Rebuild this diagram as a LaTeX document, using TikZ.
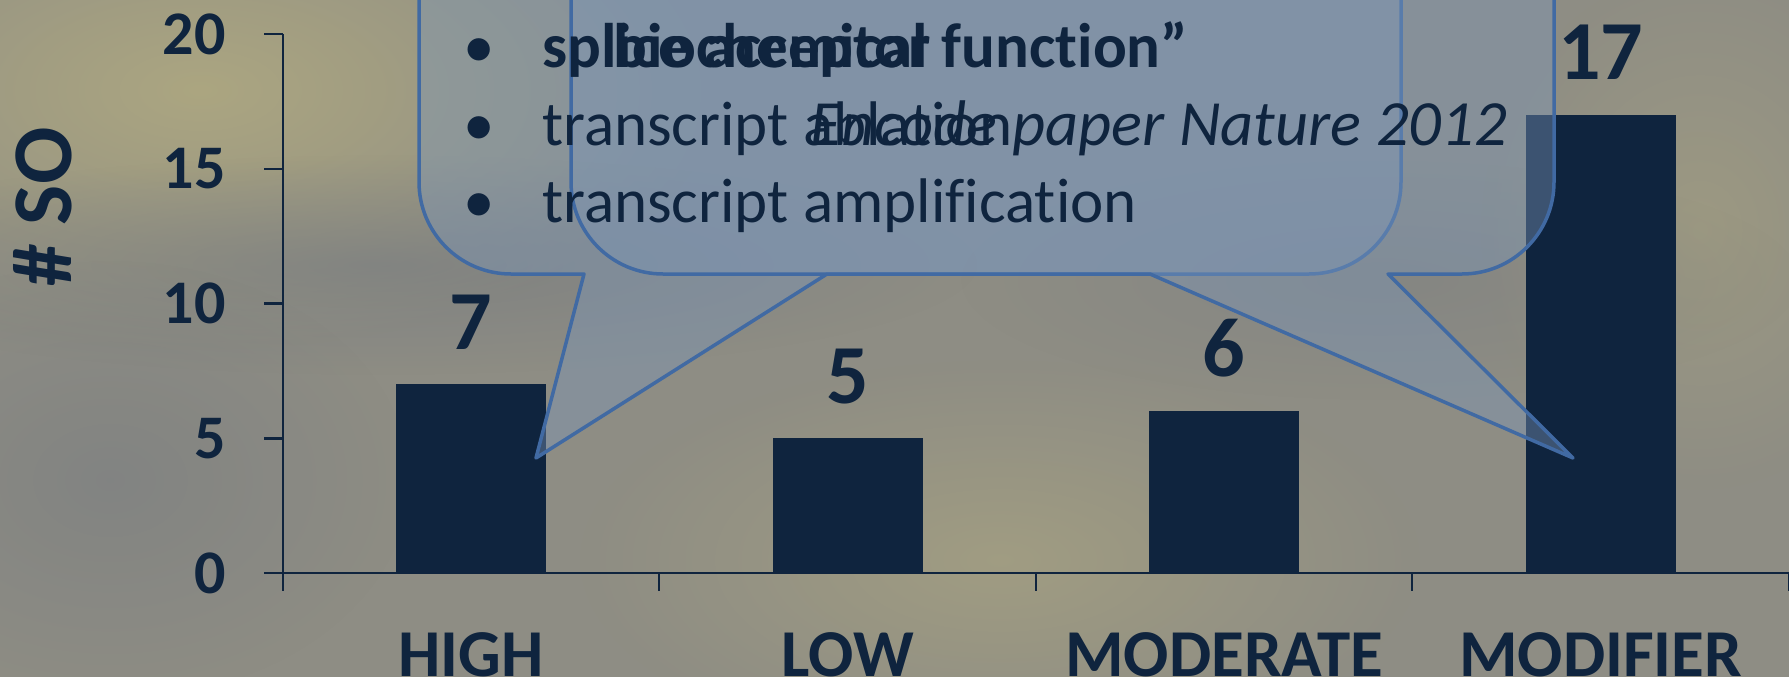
\documentclass[tikz,border=0pt]{standalone}
\usepackage{fontspec}
\setmainfont{Carlito}[Ligatures=NoCommon]
\usetikzlibrary{positioning,fadings}

\definecolor{navy}{HTML}{0F243E}
\definecolor{bubbleline}{HTML}{416AA3}
\definecolor{bubblefill}{HTML}{7B96B8}
\definecolor{skybase}{HTML}{8E8D84}
\definecolor{skyyellow}{HTML}{B3AC80}
\definecolor{skygray}{HTML}{737880}

\tikzfading[name=softspot, inner color=transparent!0, outer color=transparent!100]

\tikzset{
  bar/.style={fill=navy, inner sep=0pt, outer sep=0pt, minimum width=150pt, anchor=south},
  ticklbl/.style={font=\fontsize{62}{62}\selectfont\bfseries, text=navy, anchor=east, inner sep=0pt},
  vallbl/.style={font=\fontsize{84}{84}\selectfont\bfseries, text=navy, anchor=base, inner sep=0pt},
  catlbl/.style={font=\fontsize{67}{67}\selectfont\bfseries, text=navy, anchor=base, inner sep=0pt},
  bubble/.style={draw=bubbleline, line width=3.5pt, fill=bubblefill, fill opacity=0.42, line join=round},
  bubbletxt/.style={font=\fontsize{63}{77}\selectfont, text=navy, anchor=base west, inner sep=0pt},
  dot/.style={font=\fontsize{63}{77}\selectfont, text=navy, anchor=base, inner sep=0pt},
  axisline/.style={draw=navy, line width=2.5pt},
  blob/.style={path fading=softspot},
}

\begin{document}
\begin{tikzpicture}[x=1pt,y=-1pt]
\useasboundingbox (0,0) rectangle (1789,677);
\clip (0,0) rectangle (1789,677);

% blurred sky behind the chart
\fill[skybase] (0,0) rectangle (1789,677);
\fill[skyyellow, blob, opacity=0.8] (200,90) ellipse [x radius=520, y radius=260];
\fill[skyyellow, blob, opacity=0.5] (1000,560) ellipse [x radius=420, y radius=200];
\fill[skyyellow, blob, opacity=0.4] (1700,230) ellipse [x radius=220, y radius=260];
\fill[skygray, blob, opacity=0.55] (380,265) ellipse [x radius=600, y radius=110];
\fill[skygray, blob, opacity=0.45] (110,480) ellipse [x radius=300, y radius=220];
\fill[skygray, blob, opacity=0.35] (1380,280) ellipse [x radius=420, y radius=120];

% axes
\draw[axisline] (283,34) -- (283,591);
\draw[axisline] (264,573) -- (1789,573);
\foreach \v in {0,5,...,20} {
  \draw[axisline] (264,{573-26.95*\v}) -- (283,{573-26.95*\v});
  \node[ticklbl] (tick\v) at (226,{573-26.95*\v}) {\v};
}
\foreach \x in {659,1036,1412,1789}
  \draw[axisline] (\x,573) -- (\x,591);
\node[rotate=90, font=\fontsize{85}{85}\selectfont\bfseries, text=navy, inner sep=0pt] (ylabel) at (43,207) {\# SO};

% bars, values and categories
\foreach \i/\cat/\val in {0/HIGH/7,1/LOW/5,2/MODERATE/6,3/MODIFIER/17} {
  \node[bar, minimum height={26.95pt*\val}] (bar\i) at ({471.25+376.5*\i},573) {};
  \node[vallbl] (val\i) at ([yshift=35pt]bar\i.north) {\val};
  \node[catlbl] (cat\i) at ({471.25+376.5*\i},676) {\cat};
}

% the two callouts
\path[bubble] (419,-150) -- (419,182) arc[start angle=180,end angle=270,radius=92pt]
  -- (584,274) -- (536,458) -- (827,274) -- (1309,274)
  arc[start angle=270,end angle=360,radius=92pt] -- (1401,-150) -- cycle;
\path[bubble] (571,-150) -- (571,182) arc[start angle=180,end angle=270,radius=92pt]
  -- (1150,274) -- (1573,458) -- (1388,274) -- (1462,274)
  arc[start angle=270,end angle=360,radius=92pt] -- (1554,-150) -- cycle;

% HIGH callout text
\node[dot] (d1) at (479,68) {•};
\node[dot] (d2) at (479,145) {•};
\node[dot] (d3) at (479,222) {•};
\node[bubbletxt] (t1) at (542,68) {\bfseries splice acceptor};
\node[bubbletxt] (t2) at (542,145) {transcript ablation};
\node[bubbletxt] (t3) at (542,222) {transcript amplification};

% MODIFIER callout text
\node[bubbletxt] (q1) at (613,68) {\bfseries biochemical function”};
\node[bubbletxt, font=\fontsize{64.5}{77}\selectfont\itshape] (q2) at (810,145) {Encode paper Nature 2012};
\end{tikzpicture}
\end{document}
